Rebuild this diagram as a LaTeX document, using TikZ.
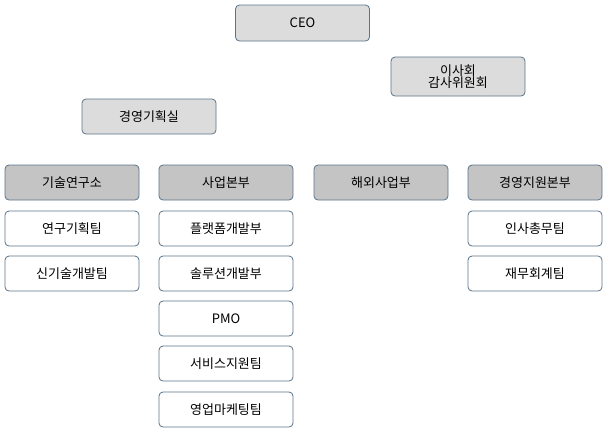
\documentclass[tikz,border=0pt]{standalone}
\usepackage{fontspec}
\setmainfont{Noto Sans CJK KR}
\begin{document}
\begin{tikzpicture}[x=1pt,y=-1pt,
  base/.style={draw=bord,line width=0.8pt,rounded corners=4pt,font=\fontsize{13}{14}\selectfont,align=center,minimum width=134pt,minimum height=35pt,inner sep=0pt},
  top/.style={base,fill=topfill},
  head/.style={base,fill=headfill},
  item/.style={base,fill=white}]
\definecolor{bord}{HTML}{5B7389}
\definecolor{topfill}{HTML}{DCDCDC}
\definecolor{headfill}{HTML}{C4C4C4}
\useasboundingbox (0,0) rectangle (607,432);
\node[top,minimum height=36pt] (ceo) at (302.5,23) {CEO};
\node[top,minimum height=39pt] (board) at (458,76.5) {이사회\\[-2pt]감사위원회};
\node[top] (plan) at (149,116.5) {경영기획실};
\node[head] (h1) at (72,182.5) {기술연구소};
\node[head] (h2) at (226,182.5) {사업본부};
\node[head] (h3) at (381,182.5) {해외사업부};
\node[head] (h4) at (535,182.5) {경영지원본부};
\node[item] (a1) at (72,228.5) {연구기획팀};
\node[item] (a2) at (72,273.5) {신기술개발팀};
\node[item] (b1) at (226,228.5) {플랫폼개발부};
\node[item] (b2) at (226,273.5) {솔루션개발부};
\node[item] (b3) at (226,318.5) {PMO};
\node[item] (b4) at (226,363.5) {서비스지원팀};
\node[item] (b5) at (226,409.5) {영업마케팅팀};
\node[item] (d1) at (535,228.5) {인사총무팀};
\node[item] (d2) at (535,273.5) {재무회계팀};
\end{tikzpicture}
\end{document}
